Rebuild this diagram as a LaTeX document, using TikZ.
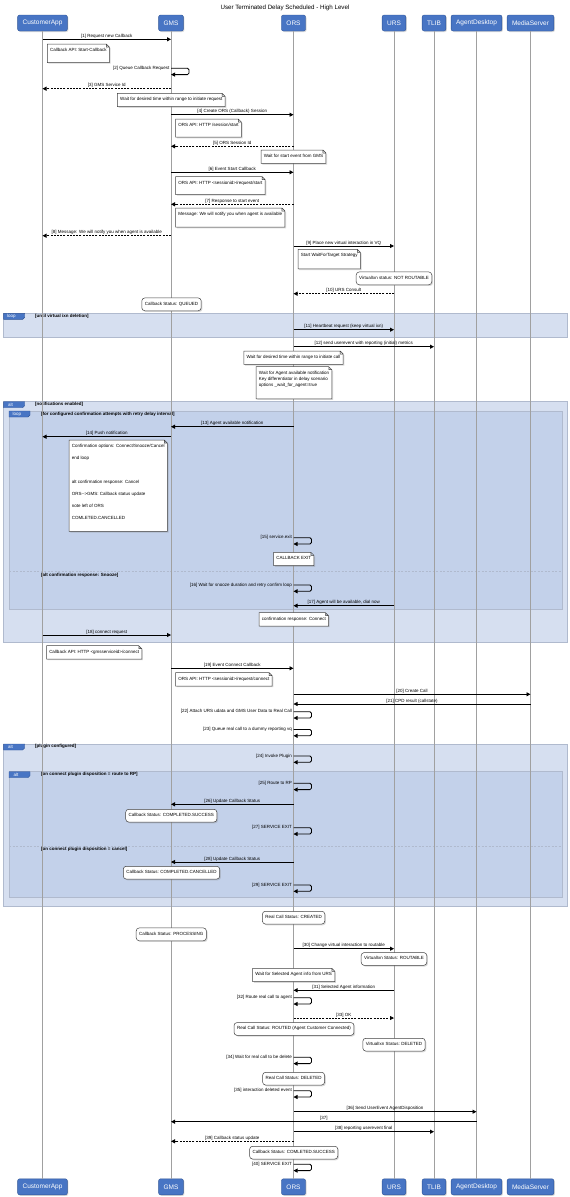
\documentclass[tikz,border=0pt]{standalone}
\usepackage{fontspec}
\setmainfont{Liberation Sans}
\usetikzlibrary{arrows.meta,shadows}

\definecolor{partblue}{RGB}{72,117,196}
\definecolor{partedge}{RGB}{47,84,150}
\definecolor{framelight}{RGB}{214,223,240}
\definecolor{framedark}{RGB}{195,209,234}
\definecolor{frameedge}{RGB}{176,186,206}
\definecolor{lifegray}{RGB}{160,160,160}

\newcommand{\lblsize}{\fontsize{4.5}{6}\selectfont}

\begin{document}
\begin{tikzpicture}[%
      x=1pt, y=-1pt,
      part/.style={draw=partedge, fill=partblue, text=white, rounded corners=2pt,
        minimum height=16pt, inner xsep=5pt, font=\fontsize{6.5}{7.5}\selectfont,
        drop shadow={shadow xshift=1pt, shadow yshift=-1pt, opacity=0.3}},
      life/.style={draw=lifegray, line width=0.9pt},
      msg/.style={draw=black, line width=0.8pt, -{Triangle[length=4pt,width=4pt]}},
      retmsg/.style={msg, dash pattern=on 2pt off 1.2pt},
      selfmsg/.style={msg, rounded corners=1.5pt},
      lbl/.style={font=\lblsize, above, inner sep=0.6pt},
      slbl/.style={font=\lblsize, anchor=east, inner sep=1.2pt},
      notebd/.style={draw=black!75, fill=white, line width=0.5pt,
        drop shadow={shadow xshift=1.2pt, shadow yshift=-1.2pt, opacity=0.3}},
      dogear/.style={append after command={
        (\tikzlastnode.north west) -- ([xshift=-3pt]\tikzlastnode.north east)
        -- ([yshift=-3pt]\tikzlastnode.north east) -- (\tikzlastnode.south east)
        -- (\tikzlastnode.south west) -- cycle
        ([xshift=-3pt]\tikzlastnode.north east) |- ([yshift=-3pt]\tikzlastnode.north east)}},
      note/.style={dogear, font=\lblsize, inner xsep=2.5pt, inner ysep=4pt,
        text height=3.4pt, text depth=1.4pt},
      mnote/.style={dogear, font=\lblsize, align=left, inner xsep=2.5pt, inner ysep=4pt},
      rnote/.style={draw=black!75, fill=white, line width=0.5pt, rounded corners=3pt,
        font=\lblsize, inner xsep=3pt, inner ysep=4pt, text height=3.4pt, text depth=1.4pt,
        drop shadow={shadow xshift=1.2pt, shadow yshift=-1.2pt, opacity=0.3}},
      frameA/.style={fill=framelight, draw=frameedge, line width=0.6pt},
      frameB/.style={fill=framedark, draw=frameedge, line width=0.6pt},
      tabbox/.style={fill=partblue, draw=partedge, line width=0.4pt},
      tabtxt/.style={font=\lblsize, text=white, anchor=west, inner sep=0pt},
      cond/.style={font=\lblsize\bfseries, anchor=west, inner sep=0pt},
      sep/.style={draw=frameedge, dash pattern=on 2pt off 1.5pt, line width=0.6pt},
      ]
      \useasboundingbox (0,0) rectangle (570,1197);

      \node[font=\fontsize{6.2}{7}\selectfont] (title) at (285,7.5) {User Terminated Delay Scheduled - High Level};

      \node[part] (ca) at (42.5,23) {CustomerApp};
      \node[part] (gms) at (171,23) {GMS};
      \node[part] (ors) at (293.5,23) {ORS};
      \node[part] (urs) at (394,23) {URS};
      \node[part] (tlib) at (434,23) {TLIB};
      \node[part] (ad) at (476.5,23) {AgentDesktop};
      \node[part] (ms) at (530.5,23) {MediaServer};

      \node[part] (cab) at (42.5,1186.8) {CustomerApp};
      \node[part] (gmsb) at (171,1186.8) {GMS};
      \node[part] (orsb) at (293.5,1186.8) {ORS};
      \node[part] (ursb) at (394,1186.8) {URS};
      \node[part] (tlibb) at (434,1186.8) {TLIB};
      \node[part] (adb) at (476.5,1186.8) {AgentDesktop};
      \node[part] (msb) at (530.5,1186.8) {MediaServer};

      \filldraw[frameA] (3.6,313.3) rectangle (567,337.3);
      \filldraw[tabbox] (3.6,313.3) -- (24.7,313.3) -- (24.7,317.3) -- (22.7,319.3) -- (3.6,319.3) -- cycle;
      \node[tabtxt] (tb1) at (7,316.3) {loop};
      \node[cond] (cd1) at (35,316.7) {[until virtual ixn deletion]};

      \filldraw[frameA] (3.6,401.7) rectangle (567,642.7);
      \filldraw[tabbox] (3.6,401.7) -- (24.7,401.7) -- (24.7,405.7) -- (22.7,407.7) -- (3.6,407.7) -- cycle;
      \node[tabtxt] (tb2) at (8,404.7) {alt};
      \node[cond] (cd2) at (35,404.7) {[notifications enabled]};

      \filldraw[frameB] (9,411) rectangle (562,609);
      \filldraw[tabbox] (9,411) -- (30,411) -- (30,415) -- (28,417) -- (9,417) -- cycle;
      \node[tabtxt] (tb3) at (12.5,414) {loop};
      \node[cond] (cd3) at (41,414.7) {[for configured confirmation attempts with retry delay interval]};
      \draw[sep] (9,571.7) -- (562,571.7);
      \node[cond] (cd4) at (41,575.3) {[alt confirmation response: Snooze]};

      \filldraw[frameA] (3.6,744) rectangle (567,906);
      \filldraw[tabbox] (3.6,744) -- (24.7,744) -- (24.7,748) -- (22.7,750) -- (3.6,750) -- cycle;
      \node[tabtxt] (tb4) at (8,747) {alt};
      \node[cond] (cd5) at (35,746.7) {[plugin configured]};

      \filldraw[frameB] (9,771.7) rectangle (562,897.5);
      \filldraw[tabbox] (9,771.7) -- (30,771.7) -- (30,775.7) -- (28,777.7) -- (9,777.7) -- cycle;
      \node[tabtxt] (tb5) at (13.5,774.7) {alt};
      \node[cond] (cd6) at (41,774.3) {[on connect plugin disposition = route to RP]};
      \draw[sep] (9,846) -- (562,846);
      \node[cond] (cd7) at (41,849) {[on connect plugin disposition = cancel]};

      \draw[life] (ca) -- (cab);
      \draw[life] (gms) -- (gmsb);
      \draw[life] (ors) -- (orsb);
      \draw[life] (urs) -- (ursb);
      \draw[life] (tlib) -- (tlibb);
      \draw[life] (ad) -- (adb);
      \draw[life] (ms) -- (msb);

      \draw[msg] (ca |- 0,39.3) -- node[lbl] (l1) {[1] Request new Callback} (gms |- 0,39.3);
      \filldraw[notebd] node[note, anchor=north, text depth=6.6pt] (n1) at (78.3,44) {Callback API: Start-Callback};
      \draw[selfmsg] (gms |- 0,68.3) node[slbl] (l2) {[2] Queue Callback Request} -- ++(18,0) -- ++(0,6.3) -- (gms |- 0,74.6);
      \draw[retmsg] (gms |- 0,88.7) -- node[lbl] (l3) {[3] GMS Service Id} (ca |- 0,88.7);
      \filldraw[notebd] node[note, anchor=north] (n2) at (171.3,93.3) {Wait for desired time within range to initiate request};
      \draw[msg] (gms |- 0,114.7) -- node[lbl] (l4) {[4] Create ORS (Callback) Session} (ors |- 0,114.7);
      \filldraw[notebd] node[note, anchor=north west, text depth=6.3pt] (n3) at (175.6,119) {ORS API: HTTP /session/start};
      \draw[retmsg] (ors |- 0,146.3) -- node[lbl] (l5) {[5] ORS Session Id} (gms |- 0,146.3);
      \filldraw[notebd] node[note, anchor=north] (n4) at (293.5,150) {Wait for start event from GMS};
      \draw[msg] (gms |- 0,172.3) -- node[lbl] (l6) {[6] Event Start Callback} (ors |- 0,172.3);
      \filldraw[notebd] node[note, anchor=north west, text depth=5.9pt] (n5) at (175.6,176.7) {ORS API: HTTP <sessionid>/request/start};
      \draw[retmsg] (ors |- 0,204.3) -- node[lbl] (l7) {[7] Response to start event} (gms |- 0,204.3);
      \filldraw[notebd] node[note, anchor=north west, text depth=7.3pt] (n6) at (175.6,208) {Message: We will notify you when agent is available};
      \draw[retmsg] (gms |- 0,235.7) -- node[lbl] (l8) {[8] Message: We will notify you when agent is available} (ca |- 0,235.7);
      \draw[msg] (ors |- 0,246) -- node[lbl] (l9) {[9] Place new virtual interaction in VQ} (urs |- 0,246);
      \filldraw[notebd] node[note, anchor=north west, text depth=7.6pt] (n7) at (298,249.3) {Start WaitForTarget Strategy};
      \node[rnote, anchor=north] (r1) at (394,271.7) {VirtualIxn status: NOT ROUTABLE};
      \draw[retmsg] (urs |- 0,293.7) -- node[lbl] (l10) {[10] URS Consult} (ors |- 0,293.7);
      \node[rnote, anchor=north] (r2) at (171.5,297.7) {Callback Status: QUEUED};

      \draw[msg] (ors |- 0,329.7) -- node[lbl] (l11) {[11] Heartbeat request (keep virtual ixn)} (urs |- 0,329.7);
      \draw[msg] (ors |- 0,346.7) -- node[lbl] (l12) {[12] send userevent with reporting (initial) metrics} (tlib |- 0,346.7);
      \filldraw[notebd] node[note, anchor=north] (n8) at (293.5,351) {Wait for desired time within range to initiate call};
      \filldraw[notebd] node[mnote, anchor=north] (n9) at (294,366.7)
        {Wait for Agent available notification\\Key differentiator in delay scenario\\options \_wait\_for\_agent=true\\[2.3pt]\mbox{}};

      \draw[msg] (ors |- 0,426.7) -- node[lbl] (l13) {[13] Agent available notification} (gms |- 0,426.7);
      \draw[msg] (gms |- 0,436.7) -- node[lbl] (l14) {[14] Push notification} (ca |- 0,436.7);
      \filldraw[notebd] node[mnote, anchor=north east] (nconf) at (167.3,440)
        {Confirmation options: Connect/Snooze/Cancel\\[6pt]end loop\\[18pt]alt confirmation response: Cancel\\[6pt]ORS-{}->GMS: Callback status update\\[6pt]note left of ORS\\[6pt]COMLETED.CANCELLED\\[1.7pt]\mbox{}};
      \draw[selfmsg] (ors |- 0,537.7) node[slbl] (l15) {[15] service.exit} -- ++(18,0) -- ++(0,6.3) -- (ors |- 0,544);
      \filldraw[notebd] node[note, anchor=north] (n10) at (293.8,552.3) {CALLBACK EXIT};
      \draw[selfmsg] (ors |- 0,585) node[slbl] (l16) {[16] Wait for snooze duration and retry confirm loop} -- ++(18,0) -- ++(0,6.3) -- (ors |- 0,591.3);
      \draw[msg] (urs |- 0,605.7) -- node[lbl] (l17) {[17] Agent will be available, dial now} (ors |- 0,605.7);
      \filldraw[notebd] node[note, anchor=north] (n11) at (293.8,612.7) {confirmation response: Connect};
      \draw[msg] (ca |- 0,635) -- node[lbl] (l18) {[18] connect request} (gms |- 0,635);

      \filldraw[notebd] node[note, anchor=north west] (n12) at (46.5,645.7) {Callback API: HTTP <gmsserviceid>/connect};
      \draw[msg] (gms |- 0,668.3) -- node[lbl] (l19) {[19] Event Connect Callback} (ors |- 0,668.3);
      \filldraw[notebd] node[note, anchor=north west] (n13) at (175.6,672.7) {ORS API: HTTP <sessionid>/request/connect};
      \draw[msg] (ors |- 0,694.3) -- node[lbl] (l20) {[20] Create Call} (ms |- 0,694.3);
      \draw[msg] (ms |- 0,704) -- node[lbl] (l21) {[21] CPD result (callstate)} (ors |- 0,704);
      \draw[selfmsg] (ors |- 0,711.7) node[slbl] (l22) {[22] Attach URS udata and GMS User Data to Real Call} -- ++(18,0) -- ++(0,6.3) -- (ors |- 0,718);
      \draw[selfmsg] (ors |- 0,729.5) node[slbl] (l23) {[23] Queue real call to a dummy reporting vq} -- ++(18,0) -- ++(0,6.3) -- (ors |- 0,735.8);

      \draw[selfmsg] (ors |- 0,756) node[slbl] (l24) {[24] Invoke Plugin} -- ++(18,0) -- ++(0,6.3) -- (ors |- 0,762.3);
      \draw[selfmsg] (ors |- 0,783.3) node[slbl] (l25) {[25] Route to RP} -- ++(18,0) -- ++(0,6.3) -- (ors |- 0,789.6);
      \draw[msg] (ors |- 0,804.3) -- node[lbl] (l26) {[26] Update Callback Status} (gms |- 0,804.3);
      \node[rnote, anchor=north] (r3) at (171.3,809) {Callback Status: COMPLETED.SUCCESS};
      \draw[selfmsg] (ors |- 0,827.7) node[slbl] (l27) {[27] SERVICE EXIT} -- ++(18,0) -- ++(0,6.3) -- (ors |- 0,834);
      \draw[msg] (ors |- 0,862) -- node[lbl] (l28) {[28] Update Callback Status} (gms |- 0,862);
      \node[rnote, anchor=north] (r4) at (171.5,866) {Callback Status: COMPLETED.CANCELLED};
      \draw[selfmsg] (ors |- 0,885) node[slbl] (l29) {[29] SERVICE EXIT} -- ++(18,0) -- ++(0,6.3) -- (ors |- 0,891.3);

      \node[rnote, anchor=north] (r5) at (293.6,911) {Real Call Status: CREATED};
      \node[rnote, anchor=north] (r6) at (171.3,927.7) {Callback Status: PROCESSING};
      \draw[msg] (ors |- 0,948.7) -- node[lbl] (l30) {[30] Change virtual interaction to routable} (urs |- 0,948.7);
      \node[rnote, anchor=north] (r7) at (394,952.3) {VirtualIxn Status: ROUTABLE};
      \filldraw[notebd] node[note, anchor=north] (n14) at (293.7,968.3) {Wait for Selected Agent info from URS};
      \draw[msg] (urs |- 0,990.3) -- node[lbl] (l31) {[31] Selected Agent information} (ors |- 0,990.3);
      \draw[selfmsg] (ors |- 0,997.7) node[slbl] (l32) {[32] Route real call to agent} -- ++(18,0) -- ++(0,6.3) -- (ors |- 0,1004);
      \draw[retmsg] (ors |- 0,1018) -- node[lbl] (l33) {[33] OK} (urs |- 0,1018);
      \node[rnote, anchor=north] (r8) at (294,1022.3) {Real Call Status: ROUTED (Agent Customer Connected)};
      \node[rnote, anchor=north] (r9) at (394,1038) {VirtualIxn Status: DELETED};
      \draw[selfmsg] (ors |- 0,1057.3) node[slbl] (l34) {[34] Wait for real call to be delete} -- ++(18,0) -- ++(0,6.3) -- (ors |- 0,1063.6);
      \node[rnote, anchor=north] (r10) at (293.6,1072) {Real Call Status: DELETED};
      \draw[selfmsg] (ors |- 0,1090.7) node[slbl] (l35) {[35] interaction deleted event} -- ++(18,0) -- ++(0,6.3) -- (ors |- 0,1097);
      \draw[msg] (ors |- 0,1111.7) -- node[lbl] (l36) {[36] Send UserEvent AgentDisposition} (ad |- 0,1111.7);
      \draw[msg] (ad |- 0,1121.7) -- node[lbl] (l37) {[37]} (gms |- 0,1121.7);
      \draw[msg] (ors |- 0,1131.7) -- node[lbl] (l38) {[38] reporting userevent final} (tlib |- 0,1131.7);
      \draw[retmsg] (ors |- 0,1141.3) -- node[lbl] (l39) {[39] Callback status update} (gms |- 0,1141.3);
      \node[rnote, anchor=north] (r11) at (293.7,1146) {Callback Status: COMLETED.SUCCESS};
      \draw[selfmsg] (ors |- 0,1164.3) node[slbl] (l40) {[40] SERVICE EXIT} -- ++(18,0) -- ++(0,6.3) -- (ors |- 0,1170.6);
      \end{tikzpicture}
\end{document}
